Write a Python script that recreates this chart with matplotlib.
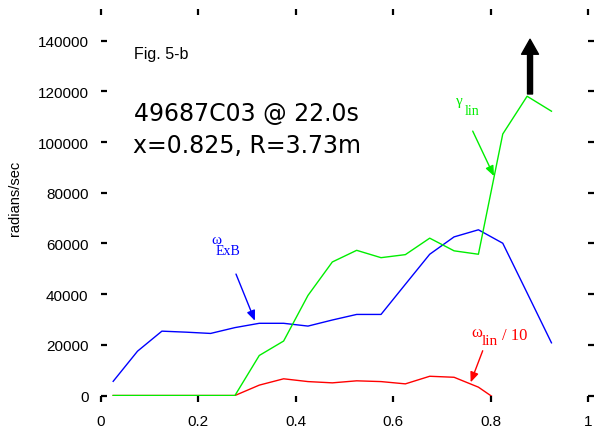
import matplotlib
matplotlib.use("Agg")
import matplotlib.pyplot as plt
import numpy as np

plt.rcParams['font.family'] = ['Liberation Sans', 'DejaVu Sans']

# Normalised radius grid
x = [0.025, 0.075, 0.125, 0.175, 0.225, 0.275, 0.325, 0.375, 0.425, 0.475,
     0.525, 0.575, 0.625, 0.675, 0.725, 0.775, 0.825, 0.875, 0.925]

# E x B shearing rate (rad/s)
omega_exb = [5600, 17500, 25400, 25000, 24500, 26800, 28500, 28500, 27400, 29800,
             32000, 32000, 43900, 55750, 62600, 65400, 60100, 40500, 20800]

# Linear growth rate (rad/s)
gamma_lin = [0, 0, 0, 0, 0, 0, 15800, 21500, 39500, 52700,
             57300, 54400, 55600, 62100, 57100, 55750, 103200, 118100, 112200]

# Linear real frequency / 10 (rad/s)
x_wlin = x[:17]
omega_lin_10 = [0, 0, 0, 0, 0, 0, 4100, 6600, 5500, 5000,
                5800, 5500, 4600, 7600, 7200, 3300, -3300]

xticks = [0, 0.2, 0.4, 0.6, 0.8, 1]
xticklabels = ["0", "0.2", "0.4", "0.6", "0.8", "1"]
yticks = [0, 20000, 40000, 60000, 80000, 100000, 120000, 140000]
yticklabels = [str(v) for v in yticks]

BLUE = "#0000ff"
GREEN = "#00ee00"
RED = "#ff0000"

fig = plt.figure(figsize=(6.03, 4.31), dpi=100)
ax = fig.add_axes([0.1675, 0.0800, 0.8076, 0.8819])

ax.plot(x_wlin, omega_lin_10, color=RED, lw=1.0)
ax.plot(x, omega_exb, color=BLUE, lw=1.0)
ax.plot(x, gamma_lin, color=GREEN, lw=1.0)

ax.set_xlim(0, 1)
ax.set_ylim(0, 150000)
ax.set_xticks(xticks)
ax.set_xticklabels(xticklabels)
ax.set_yticks(yticks)
ax.set_yticklabels(yticklabels)
for s in ax.spines.values():
    s.set_visible(False)
ax.tick_params(axis='x', direction='out', length=4, width=1.6, top=True,
               bottom=True, labelsize=11, pad=9)
ax.tick_params(axis='y', direction='in', length=4, width=1.6, left=True,
               labelsize=11, pad=9)

# right-hand tick marks without labels
twin = ax.twinx()
twin.set_ylim(ax.get_ylim())
twin.set_yticks(yticks)
twin.tick_params(axis='y', direction='out', length=4, width=1.6,
                 labelright=False)
for s in twin.spines.values():
    s.set_visible(False)

fig.text(15.5 / 603, 1 - 198 / 431, "radians/sec", rotation=90,
         ha='center', va='center', fontsize=10.5)

ax.text(0.0678, 133000, "Fig. 5-b", fontsize=11.5, ha='left', va='baseline')
ax.text(0.298, 111500, "49687C03 @ 22.0s", family=['DejaVu Sans'],
        fontsize=17, ha='center', va='center')
ax.text(0.300, 98900, "x=0.825, R=3.73m", family=['DejaVu Sans'],
        fontsize=17, ha='center', va='center')

serif = ['Liberation Serif', 'DejaVu Serif']
small_arrow = dict(arrowstyle='-|>,head_length=0.6,head_width=0.25',
                   lw=1.0, shrinkA=0, shrinkB=0)

# omega_ExB label
ax.text(0.2376, 61740, "ω", color=BLUE, family=serif, fontsize=11,
        ha='center', va='center')
ax.text(0.2602, 57120, "ExB", color=BLUE, family=serif, fontsize=10,
        ha='center', va='center')
ax.annotate('', xy=(0.316, 29510), xytext=(0.2772, 47930),
            arrowprops=dict(color=BLUE, **small_arrow))

# gamma_lin label
ax.text(0.7365, 116570, "γ", color=GREEN, family=serif, fontsize=11,
        ha='center', va='center')
ax.text(0.7612, 112630, "lin", color=GREEN, family=serif, fontsize=10,
        ha='center', va='center')
ax.annotate('', xy=(0.807, 86590), xytext=(0.7633, 104350),
            arrowprops=dict(color=GREEN, **small_arrow))

# omega_lin / 10 label
ax.text(0.772, 25050, "ω", color=RED, family=serif, fontsize=12,
        ha='center', va='center')
ax.text(0.798, 21620, "lin", color=RED, family=serif, fontsize=11,
        ha='center', va='center')
ax.text(0.850, 23870, "/ 10", color=RED, family=serif, fontsize=12,
        ha='center', va='center')
ax.annotate('', xy=(0.7591, 5210), xytext=(0.7838, 17670),
            arrowprops=dict(color=RED, **small_arrow))

# large arrow marking that gamma_lin continues upward
ax.annotate('', xy=(0.881, 140600), xytext=(0.881, 119000),
            arrowprops=dict(arrowstyle='simple,head_length=1.08,head_width=1.22,tail_width=0.36',
                            color='black', shrinkA=0, shrinkB=0,
                            mutation_scale=10))

fig.savefig("out.png", dpi=100)
